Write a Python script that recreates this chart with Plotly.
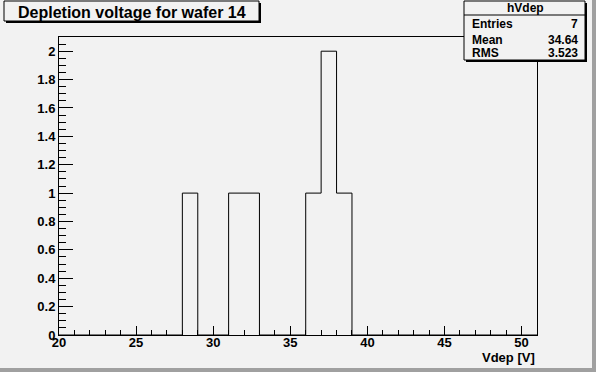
import math
import plotly.graph_objects as go

# ---- data (histogram hVdep, 1 V bins from 20 to 51) ----
bin_edges = list(range(20, 52))
counts = [0, 0, 0, 0, 0, 0, 0, 0,   # 20-28
          1,                        # 28-29
          0, 0,                     # 29-31
          1, 1,                     # 31-33
          0, 0, 0,                  # 33-36
          1, 2, 1,                  # 36-39
          0, 0, 0, 0, 0, 0, 0, 0, 0, 0, 0, 0]  # 39-51
title_text = "Depletion voltage for wafer 14"
hist_name = "hVdep"
x_title = "Vdep [V]"
y_tickvals = [0, 0.2, 0.4, 0.6, 0.8, 1, 1.2, 1.4, 1.6, 1.8, 2]
y_ticktext = ["0", "0.2", "0.4", "0.6", "0.8", "1", "1.2", "1.4", "1.6", "1.8", "2"]
x_tickvals = [20, 25, 30, 35, 40, 45, 50]
x_ticktext = ["20", "25", "30", "35", "40", "45", "50"]

# ---- statistics ----
centers = [(bin_edges[i] + bin_edges[i + 1]) / 2 for i in range(len(counts))]
entries = sum(counts)
mean = sum(c * n for c, n in zip(centers, counts)) / entries
rms = math.sqrt(sum(n * (c - mean) ** 2 for c, n in zip(centers, counts)) / entries)

# ---- layout geometry ----
W, H = 596, 372
ML, MR, MT, MB = 59, 59, 37, 37
PW, PH = W - ML - MR, H - MT - MB
BG = "#f2f2f2"
FONT = "Liberation Sans"


def px(x):
    return (x - ML) / PW


def py(y):
    return 1 - (y - MT) / PH


def b(s):
    return f"<b>{s}</b>"


# step outline
xs = []
ys = []
for i, n in enumerate(counts):
    xs += [bin_edges[i], bin_edges[i + 1]]
    ys += [n, n]

fig = go.Figure()
fig.add_trace(go.Scatter(x=xs, y=ys, mode="lines",
                         line=dict(color="black", width=1),
                         hoverinfo="skip", showlegend=False))

shapes = []


def box(x0, y0, x1, y1, shadow=2):
    shapes.append(dict(type="rect", xref="paper", yref="paper",
                       x0=px(x0 + shadow), x1=px(x1 + shadow),
                       y0=py(y0 + shadow), y1=py(y1 + shadow),
                       fillcolor="black", line=dict(width=0), layer="above"))
    shapes.append(dict(type="rect", xref="paper", yref="paper",
                       x0=px(x0), x1=px(x1), y0=py(y0), y1=py(y1),
                       fillcolor=BG, line=dict(color="black", width=1), layer="above"))


# canvas bevel
shapes.append(dict(type="rect", xref="paper", yref="paper",
                   x0=px(592), x1=px(W), y0=py(0), y1=py(H),
                   fillcolor="#a0a0a0", line=dict(width=0), layer="below"))
shapes.append(dict(type="rect", xref="paper", yref="paper",
                   x0=px(0), x1=px(W), y0=py(368), y1=py(H),
                   fillcolor="#a0a0a0", line=dict(width=0), layer="below"))

box(4, 1, 259, 21)
box(464, 1, 585, 60)
shapes.append(dict(type="line", xref="paper", yref="paper",
                   x0=px(464), x1=px(585), y0=py(15), y1=py(15),
                   line=dict(color="black", width=1), layer="above"))

ann = []
bold = dict(family=FONT, color="black", weight="bold")
ann.append(dict(text=b(title_text), xref="paper", yref="paper",
                x=px(132), y=py(12), xanchor="center", yanchor="middle",
                showarrow=False, font=dict(size=16, **bold)))
ann.append(dict(text=b(hist_name), xref="paper", yref="paper",
                x=px(525), y=py(8), xanchor="center", yanchor="middle",
                showarrow=False, font=dict(size=12, **bold)))
rows = [("Entries", f"{entries:d}", 24), ("Mean", f"{mean:.4g}", 40),
        ("RMS", f"{rms:.4g}", 53)]
for lab, val, yc in rows:
    ann.append(dict(text=b(lab), xref="paper", yref="paper", x=px(470), y=py(yc),
                    xanchor="left", yanchor="middle", showarrow=False,
                    font=dict(size=12, **bold)))
    ann.append(dict(text=b(val), xref="paper", yref="paper", x=px(580), y=py(yc),
                    xanchor="right", yanchor="middle", showarrow=False,
                    font=dict(size=12, **bold)))
ann.append(dict(text=b(x_title), xref="paper", yref="paper", x=1, y=py(357),
                xanchor="right", yanchor="middle", showarrow=False,
                font=dict(size=13, **bold)))

fig.update_layout(
    width=W, height=H, autosize=False,
    margin=dict(l=ML, r=MR, t=MT, b=MB, pad=0),
    paper_bgcolor=BG, plot_bgcolor=BG,
    shapes=shapes, annotations=ann,
    xaxis=dict(range=[20, 51], showgrid=False, zeroline=False,
               showline=True, linecolor="black", linewidth=1, mirror=True,
               ticks="inside", ticklen=9, tickcolor="black", tickwidth=1,
               tickvals=x_tickvals, ticktext=[b(t) for t in x_ticktext],
               ticklabelstandoff=-5,
               tickfont=dict(size=13, **bold),
               minor=dict(dtick=1, tick0=20, ticks="inside", ticklen=5,
                          tickcolor="black", showgrid=False)),
    yaxis=dict(range=[0, 2.1], showgrid=False, zeroline=False,
               showline=True, linecolor="black", linewidth=1, mirror=True,
               ticks="inside", ticklen=14, tickcolor="black", tickwidth=1,
               tickvals=y_tickvals, ticktext=[b(t) for t in y_ticktext],
               tickfont=dict(size=13, **bold),
               minor=dict(dtick=0.05, tick0=0, ticks="inside", ticklen=7,
                          tickcolor="black", showgrid=False)),
)

fig.write_html("out.html", config={"displayModeBar": False},
               post_script="document.body.style.margin='0';"
                           "document.body.style.overflow='hidden';")
